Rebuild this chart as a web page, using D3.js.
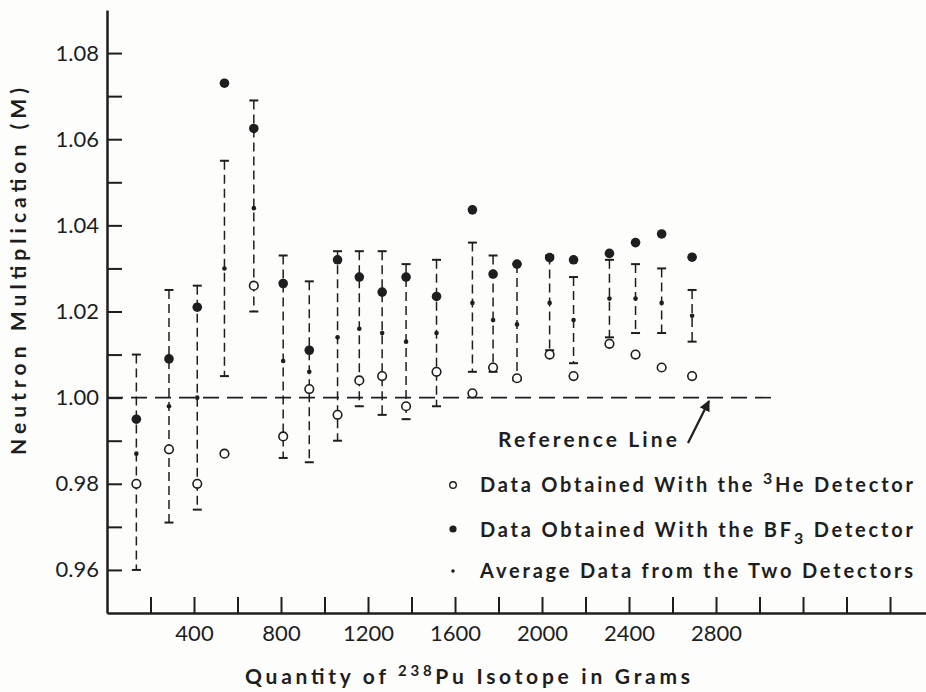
<!DOCTYPE html>
<html>
<head>
<meta charset="utf-8">
<script src="https://cdn.jsdelivr.net/npm/d3@7"></script>
<style>
  body { margin: 0; background: #fdfdfc; }
  svg { display: block; }
  text { fill: #1e1e1e; font-family: Lato, "Open Sans", sans-serif; }
</style>
</head>
<body>
<svg width="926" height="692"></svg>
<script>
// grams of Pu-238 for each measurement
var grams = [135, 285, 415, 540, 675, 810, 930, 1060, 1160, 1265, 1375, 1515, 1680, 1775, 1885, 2035, 2145, 2310, 2430, 2550, 2690];
// 3He detector (open circles)
var he3 = [0.980, 0.988, 0.980, 0.987, 1.026, 0.991, 1.002, 0.996, 1.004, 1.005, 0.998, 1.006, 1.001, 1.007, 1.0045, 1.010, 1.005, 1.0125, 1.010, 1.007, 1.005];
// BF3 detector (filled circles)
var bf3 = [0.995, 1.009, 1.021, 1.073, 1.0625, 1.0265, 1.011, 1.032, 1.028, 1.0245, 1.028, 1.0235, 1.0436, 1.0287, 1.031, 1.0325, 1.032, 1.0335, 1.036, 1.038, 1.0326];
// average of the two detectors (small dots)
var avg = [0.987, 0.998, 1.000, 1.030, 1.044, 1.0085, 1.006, 1.014, 1.016, 1.015, 1.013, 1.015, 1.022, 1.018, 1.017, 1.022, 1.018, 1.023, 1.023, 1.022, 1.019];
// error bar ends
var errLo = [0.960, 0.971, 0.974, 1.005, 1.020, 0.986, 0.985, 0.990, 0.998, 0.996, 0.995, 0.998, 1.006, 1.006, 1.004, 1.011, 1.008, 1.014, 1.015, 1.015, 1.013];
var errHi = [1.010, 1.025, 1.026, 1.055, 1.069, 1.033, 1.027, 1.034, 1.034, 1.034, 1.031, 1.032, 1.036, 1.033, 1.031, 1.033, 1.028, 1.032, 1.031, 1.030, 1.025];

var xTicks = d3.range(200, 3601, 200);
var xLabels = [400, 800, 1200, 1600, 2000, 2400, 2800];
var yTicks = d3.range(96, 109).map(function (d) { return d / 100; });
var refValue = 1.00, refEnd = 3070;

var svg = d3.select("svg");
var ink = "#1e1e1e";

var x = d3.scaleLinear().domain([0, 3770]).range([107, 927]);
var y = d3.scaleLinear().domain([0.95, 1.09]).range([613, 10]);

// y axis
var yAxis = svg.append("g").attr("transform", "translate(" + x(0) + ",0)")
    .call(d3.axisLeft(y).tickValues(yTicks).tickSizeInner(-15).tickSizeOuter(0).tickPadding(8)
        .tickFormat(function (d) { return Math.round(d * 100) % 2 === 0 ? d3.format(".2f")(d) : ""; }));
yAxis.select(".domain").attr("stroke", ink).attr("stroke-width", 2.5);
yAxis.selectAll(".tick line").attr("stroke", ink).attr("stroke-width", 2);
yAxis.selectAll(".tick text").attr("font-size", 22).attr("fill", "#2a2a2a").attr("font-family", "Lato, sans-serif");

// x axis
var xAxis = svg.append("g").attr("transform", "translate(0," + y(0.95) + ")")
    .call(d3.axisBottom(x).tickValues(xTicks).tickSizeInner(-16).tickSizeOuter(0).tickPadding(12)
        .tickFormat(function (d) { return xLabels.indexOf(d) >= 0 ? d : ""; }));
xAxis.select(".domain").attr("stroke", ink).attr("stroke-width", 2.5);
xAxis.selectAll(".tick line").attr("stroke", ink).attr("stroke-width", 2);
xAxis.selectAll(".tick text").attr("font-size", 22).attr("fill", "#2a2a2a").attr("font-family", "Lato, sans-serif");

// reference line
svg.append("line")
    .attr("x1", x(0)).attr("x2", x(refEnd))
    .attr("y1", y(refValue)).attr("y2", y(refValue))
    .attr("stroke", ink).attr("stroke-width", 1.6).attr("stroke-dasharray", "16,8");

var idx = d3.range(grams.length);
var g = svg.append("g");

// error bars
g.selectAll(".eb").data(idx).enter().append("line")
    .attr("x1", function (i) { return x(grams[i]); }).attr("x2", function (i) { return x(grams[i]); })
    .attr("y1", function (i) { return y(errHi[i]); }).attr("y2", function (i) { return y(errLo[i]); })
    .attr("stroke", ink).attr("stroke-width", 1.5).attr("stroke-dasharray", "9,5");
[errHi, errLo].forEach(function (arr) {
    g.selectAll(null).data(idx).enter().append("line")
        .attr("x1", function (i) { return x(grams[i]) - 4.5; }).attr("x2", function (i) { return x(grams[i]) + 4.5; })
        .attr("y1", function (i) { return y(arr[i]); }).attr("y2", function (i) { return y(arr[i]); })
        .attr("stroke", ink).attr("stroke-width", 2);
});

// average dots
g.selectAll(".avg").data(idx).enter().append("circle")
    .attr("cx", function (i) { return x(grams[i]); }).attr("cy", function (i) { return y(avg[i]); })
    .attr("r", 2.3).attr("fill", ink);
// 3He open circles
g.selectAll(".he").data(idx).enter().append("circle")
    .attr("cx", function (i) { return x(grams[i]); }).attr("cy", function (i) { return y(he3[i]); })
    .attr("r", 4.3).attr("fill", "#fdfdfc").attr("stroke", ink).attr("stroke-width", 1.6);
// BF3 filled circles
g.selectAll(".bf").data(idx).enter().append("circle")
    .attr("cx", function (i) { return x(grams[i]); }).attr("cy", function (i) { return y(bf3[i]); })
    .attr("r", 4.8).attr("fill", ink);

// axis titles
svg.append("text")
    .attr("x", 245).attr("y", 684)
    .attr("font-size", 21).attr("font-weight", "bold")
    .attr("textLength", 445).attr("lengthAdjust", "spacing")
    .call(function (t) {
        t.append("tspan").text("Quantity of ");
        t.append("tspan").attr("font-size", 15).attr("dy", -8).text("238");
        t.append("tspan").attr("dy", 8).text("Pu Isotope in Grams");
    });

svg.append("text")
    .attr("transform", "translate(26,455) rotate(-90)")
    .attr("font-size", 21).attr("font-weight", "bold")
    .attr("textLength", 367).attr("lengthAdjust", "spacing")
    .text("Neutron Multiplication (M)");

// reference line label and arrow
svg.append("text")
    .attr("x", 498).attr("y", 447)
    .attr("font-size", 21).attr("font-weight", "bold")
    .attr("textLength", 179).attr("lengthAdjust", "spacing")
    .text("Reference Line");
svg.append("defs").append("marker")
    .attr("id", "ah").attr("viewBox", "0 0 10 10").attr("refX", 9).attr("refY", 5)
    .attr("markerWidth", 5).attr("markerHeight", 5).attr("orient", "auto")
    .append("path").attr("d", "M0,0L10,5L0,10z").attr("fill", ink);
svg.append("line")
    .attr("x1", 688).attr("y1", 443).attr("x2", 709).attr("y2", 401)
    .attr("stroke", ink).attr("stroke-width", 2.2).attr("marker-end", "url(#ah)");

// legend
var legend = svg.append("g");
var rows = [
    { y: 492, cy: 485, type: "open" },
    { y: 537, cy: 529, type: "filled" },
    { y: 578, cy: 571, type: "dot" }
];
rows.forEach(function (r, k) {
    var m = legend.append("circle").attr("cx", 453).attr("cy", r.cy);
    if (r.type === "open") m.attr("r", 3.3).attr("fill", "none").attr("stroke", ink).attr("stroke-width", 1.4);
    else if (r.type === "filled") m.attr("r", 3.6).attr("fill", ink);
    else m.attr("r", 1.8).attr("fill", ink);
    var t = legend.append("text").attr("x", 480).attr("y", r.y)
        .attr("font-size", 20).attr("font-weight", "bold")
        .attr("textLength", 433).attr("lengthAdjust", "spacing");
    if (k === 0) {
        t.append("tspan").text("Data Obtained With the ");
        t.append("tspan").attr("font-size", 16).attr("dy", -8).text("3");
        t.append("tspan").attr("dy", 8).text("He Detector");
    } else if (k === 1) {
        t.append("tspan").text("Data Obtained With the BF");
        t.append("tspan").attr("font-size", 16).attr("dy", 7).text("3");
        t.append("tspan").attr("dy", -7).text(" Detector");
    } else {
        t.text("Average Data from the Two Detectors");
    }
});
</script>
</body>
</html>
